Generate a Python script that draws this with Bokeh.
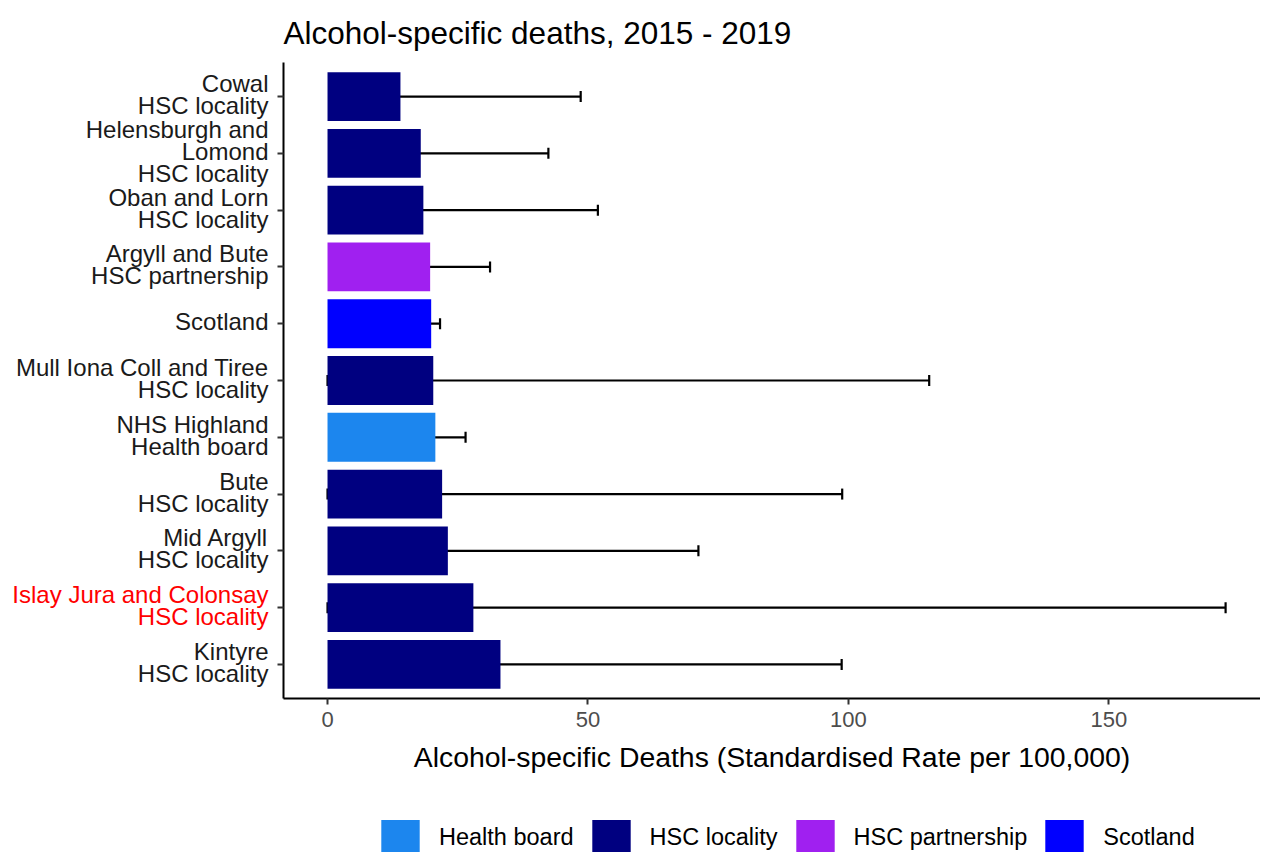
from bokeh.plotting import figure
from bokeh.models import (ColumnDataSource, Whisker, Legend, LegendItem,
                          FactorRange, Range1d, FixedTicker, TeeHead)
from bokeh.layouts import column, row
from bokeh.core.properties import value
from bokeh.embed import file_html
from bokeh.resources import INLINE

# ---- data ----
areas = [
    "Cowal\nHSC locality",
    "Helensburgh and\nLomond\nHSC locality",
    "Oban and Lorn\nHSC locality",
    "Argyll and Bute\nHSC partnership",
    "Scotland",
    "Mull Iona Coll and Tiree\nHSC locality",
    "NHS Highland\nHealth board",
    "Bute\nHSC locality",
    "Mid Argyll\nHSC locality",
    "Islay Jura and Colonsay\nHSC locality",
    "Kintyre\nHSC locality",
]
area_types = ["HSC locality", "HSC locality", "HSC locality", "HSC partnership",
              "Scotland", "HSC locality", "Health board", "HSC locality",
              "HSC locality", "HSC locality", "HSC locality"]
rates = [14.0, 17.9, 18.4, 19.7, 19.9, 20.3, 20.7, 22.0, 23.1, 28.0, 33.2]
lower_ci = [1.5, 5.6, 4.1, 12.1, 19.4, 0.0, 16.4, 0.0, 4.2, 0.0, 6.8]
upper_ci = [48.6, 42.4, 51.9, 31.2, 21.6, 115.5, 26.5, 98.8, 71.2, 172.4, 98.7]
legend_types = ["Health board", "HSC locality", "HSC partnership", "Scotland"]
type_colors = ["#1C86EE", "#000080", "#A020F0", "#0000FF"]
highlight_area = "Islay Jura and Colonsay\nHSC locality"
x_ticks = [0, 50, 100, 150]

FONT = "Liberation Sans"
TOTAL_W = 1260
LABEL_W = 270
TOP_H = 800
LEG_H = 52

y_range = FactorRange(factors=list(reversed(areas)),
                      range_padding=0.2 / 11, range_padding_units="percent")

# ---------------- main chart ----------------
p = figure(width=TOTAL_W - LABEL_W, height=TOP_H, y_range=y_range,
           x_range=Range1d(-8.45, 179.1),
           output_backend="svg", toolbar_location=None,
           title="Alcohol-specific deaths, 2015 - 2019")
p.min_border_left = 13
p.min_border_top = 62
p.min_border_right = 0
p.min_border_bottom = TOP_H - 698
p.outline_line_color = None
p.xgrid.visible = False
p.ygrid.visible = False

p.title.text_font = FONT
p.title.text_font_size = "31.5px"
p.title.text_font_style = "normal"
p.title.text_color = "black"
p.title.align = "left"
p.title.standoff = 24

for t, c in zip(legend_types, type_colors):
    idx = [i for i, a in enumerate(area_types) if a == t]
    src = ColumnDataSource(dict(area=[areas[i] for i in idx],
                                rate=[rates[i] for i in idx]))
    p.hbar(y="area", left=0, right="rate", height=0.86, source=src,
           fill_color=c, line_color=None)

err_src = ColumnDataSource(dict(area=areas, lo=lower_ci, hi=upper_ci))
w = Whisker(base="area", lower="lo", upper="hi", dimension="width", source=err_src,
            line_color="black", line_width=2.2,
            upper_head=TeeHead(size=11, line_width=2.2, line_color="black"),
            lower_head=TeeHead(size=11, line_width=2.2, line_color="black"))
p.add_layout(w)

xa = p.xaxis[0]
xa.ticker = FixedTicker(ticks=x_ticks)
xa.minor_tick_line_color = None
xa.axis_line_width = 2
xa.axis_line_color = "black"
xa.major_tick_line_color = "#333333"
xa.major_tick_line_width = 2
xa.major_tick_out = 6
xa.major_tick_in = 0
xa.major_label_text_font = FONT
xa.major_label_text_font_size = "22px"
xa.major_label_text_color = "#4D4D4D"
xa.major_label_standoff = 7
xa.axis_label = "Alcohol-specific Deaths (Standardised Rate per 100,000)"
xa.axis_label_text_font = FONT
xa.axis_label_text_font_size = "28.4px"
xa.axis_label_text_font_style = "normal"
xa.axis_label_text_color = "black"
xa.axis_label_standoff = 11

ya = p.yaxis[0]
ya.axis_line_width = 2
ya.axis_line_color = "black"
ya.major_tick_line_color = "#333333"
ya.major_tick_line_width = 2
ya.major_tick_out = 6
ya.major_tick_in = 0
ya.major_label_standoff = 0
ya.major_label_text_font_size = "0px"
ya.major_label_text_color = None

# ---------------- category labels (share the y scale) ----------------
lbl = figure(width=LABEL_W, height=TOP_H, y_range=y_range,
             x_range=Range1d(0, LABEL_W), output_backend="svg",
             toolbar_location=None, x_axis_location=None, y_axis_location=None)
lbl.min_border_left = 0
lbl.min_border_right = 0
lbl.min_border_top = 62
lbl.min_border_bottom = TOP_H - 698
lbl.outline_line_color = None
lbl.xgrid.visible = False
lbl.ygrid.visible = False
label_colors = ["#FF0000" if a == highlight_area else "#1A1A1A" for a in areas]
lbl_src = ColumnDataSource(dict(area=areas, color=label_colors))
lbl.text(x=LABEL_W - 2, y="area", text="area", source=lbl_src,
         text_align="right", text_baseline="middle", y_offset=-2,
         text_font=value(FONT), text_font_size="24px",
         text_color="color", text_line_height=0.82)

# ---------------- legend strip ----------------
leg = figure(width=TOTAL_W, height=LEG_H, output_backend="svg",
             x_range=Range1d(0, 1), y_range=Range1d(0, 1),
             toolbar_location=None, x_axis_location=None, y_axis_location=None)
leg.min_border = 0
leg.outline_line_color = None
leg.xgrid.visible = False
leg.ygrid.visible = False
items = []
for t, c in zip(legend_types, type_colors):
    # zero-width swatch source: only the legend key is visible
    r = leg.hbar(y=[0.5], left=[0], right=[0], height=0.9,
                 fill_color=c, line_color=None)
    items.append(LegendItem(label=t, renderers=[r]))
legend = Legend(items=items, orientation="horizontal", location=(376, -8),
                glyph_width=48, glyph_height=45, label_standoff=15, spacing=13,
                label_text_font=FONT, label_text_font_size="23.5px",
                label_text_color="black", padding=0, margin=0,
                border_line_color=None, background_fill_alpha=0)
leg.add_layout(legend, "center")

layout = column(row(lbl, p, spacing=0), leg, spacing=0)
open("out.html", "w").write(file_html(layout, INLINE))
